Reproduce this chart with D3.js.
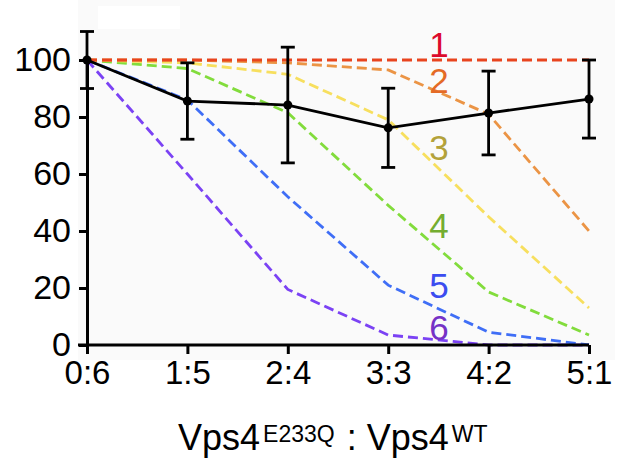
<!DOCTYPE html>
<html>
<head>
<meta charset="utf-8">
<script src="https://cdn.jsdelivr.net/npm/d3@7.9.0/dist/d3.min.js"></script>
<style>
  html, body { margin: 0; padding: 0; background: #fff; }
  svg { display: block; font-family: "Liberation Sans", Arial, Helvetica, sans-serif; }
</style>
</head>
<body>
<svg id="chart" width="618" height="458"></svg>
<script>
// ratios Vps4(E233Q) : Vps4(WT)
const ratios = ["0:6", "1:5", "2:4", "3:3", "4:2", "5:1"];
const yTicks = [0, 20, 40, 60, 80, 100];

// measured activity (black line) and error bar half-widths
const measured = [100, 85.6, 84.2, 76.2, 81.4, 86.3];
const measuredErr = [10, 13.4, 20.3, 13.9, 14.7, 13.7];

// predicted curves, numbered 1..6
const curveNames = ["1", "2", "3", "4", "5", "6"];
const curve1 = [100, 100, 100, 100, 100, 100];
const curve2 = [100, 100, 99, 96.5, 81, 40];
const curve3 = [100, 99, 95, 79, 45, 13];
const curve4 = [100, 97, 81.5, 49, 18.6, 3.5];
const curve5 = [100, 86, 52, 21, 4.5, 0];
const curve6 = [100, 60, 19.5, 3.5, 0, 0];
const curves = [curve1, curve2, curve3, curve4, curve5, curve6];

const lineColors = ["#e8441e", "#eb9445", "#f7df5e", "#82dc3c", "#3f6ef6", "#7b42f4"];
const labelColors = ["#dc0a2c", "#e46a26", "#b3a23a", "#74ad30", "#3b4cf0", "#7532c6"];
const labelY = [57, 93, 160, 238, 298, 340];

const svg = d3.select("#chart");

// faint plot backdrop like the source figure
svg.append("rect").attr("x", 78).attr("y", 0).attr("width", 537).attr("height", 360).attr("fill", "#fafafa");
svg.append("rect").attr("x", 98).attr("y", 6).attr("width", 82).attr("height", 23).attr("fill", "#fff");

const x = d3.scalePoint().domain(ratios).range([87, 589]);
const y = d3.scaleLinear().domain([0, 100]).range([345, 60]);

// predicted dashed curves (red drawn last so it sits on top)
const line = d3.line().x((d, i) => x(ratios[i])).y(d => y(d));
const order = [5, 4, 3, 2, 1, 0];
order.forEach(k => {
  svg.append("path")
    .attr("d", line(curves[k]))
    .attr("fill", "none")
    .attr("stroke", lineColors[k])
    .attr("stroke-width", 2.8)
    .attr("stroke-dasharray", "10,5");
});

// curve numbers
curveNames.forEach((name, k) => {
  svg.append("text")
    .attr("x", 439)
    .attr("y", labelY[k])
    .attr("text-anchor", "middle")
    .attr("font-size", 35)
    .attr("fill", labelColors[k])
    .text(name);
});

// axes
const yAxis = d3.axisLeft(y).tickValues(yTicks).tickSize(8).tickSizeOuter(0).tickPadding(8);
const xAxis = d3.axisBottom(x).tickSize(9).tickSizeOuter(0).tickPadding(7);

const gy = svg.append("g").attr("transform", "translate(87,0)").call(yAxis);
const gx = svg.append("g").attr("transform", "translate(0,345)").call(xAxis);

[gx, gy].forEach(g => {
  g.attr("font-family", null);
  g.select(".domain").attr("stroke", "#000").attr("stroke-width", 3);
  g.selectAll(".tick line").attr("stroke", "#000").attr("stroke-width", 3);
  g.selectAll(".tick text").attr("fill", "#000");
});
gy.attr("font-size", 34);
gx.attr("font-size", 33);
gx.select(".domain").attr("d", "M78,0H589");

// measured line with error bars
const mline = d3.line().x((d, i) => x(ratios[i])).y(d => y(d));
svg.append("path")
  .attr("d", mline(measured))
  .attr("fill", "none")
  .attr("stroke", "#000")
  .attr("stroke-width", 2.8);

const eb = svg.append("g").attr("stroke", "#000").attr("stroke-width", 2.8);
measured.forEach((v, i) => {
  const cx = x(ratios[i]);
  const top = y(v + measuredErr[i]);
  const bot = y(v - measuredErr[i]);
  eb.append("line").attr("x1", cx).attr("x2", cx).attr("y1", top).attr("y2", bot);
  eb.append("line").attr("x1", cx - 7).attr("x2", cx + 7).attr("y1", top).attr("y2", top);
  eb.append("line").attr("x1", cx - 7).attr("x2", cx + 7).attr("y1", bot).attr("y2", bot);
});

svg.append("g").selectAll("circle")
  .data(measured)
  .join("circle")
  .attr("cx", (d, i) => x(ratios[i]))
  .attr("cy", d => y(d))
  .attr("r", 4.5)
  .attr("fill", "#000");

// x axis title
const title = svg.append("text")
  .attr("x", 178)
  .attr("y", 450)
  .attr("font-size", 36)
  .attr("fill", "#000");
title.append("tspan").text("Vps4");
title.append("tspan").attr("font-size", 23).attr("dx", 3).attr("dy", -8).text("E233Q");
title.append("tspan").attr("dy", 8).attr("dx", 2).text(" : Vps4");
title.append("tspan").attr("font-size", 23).attr("dx", 3).attr("dy", -8).text("WT");
</script>
</body>
</html>
